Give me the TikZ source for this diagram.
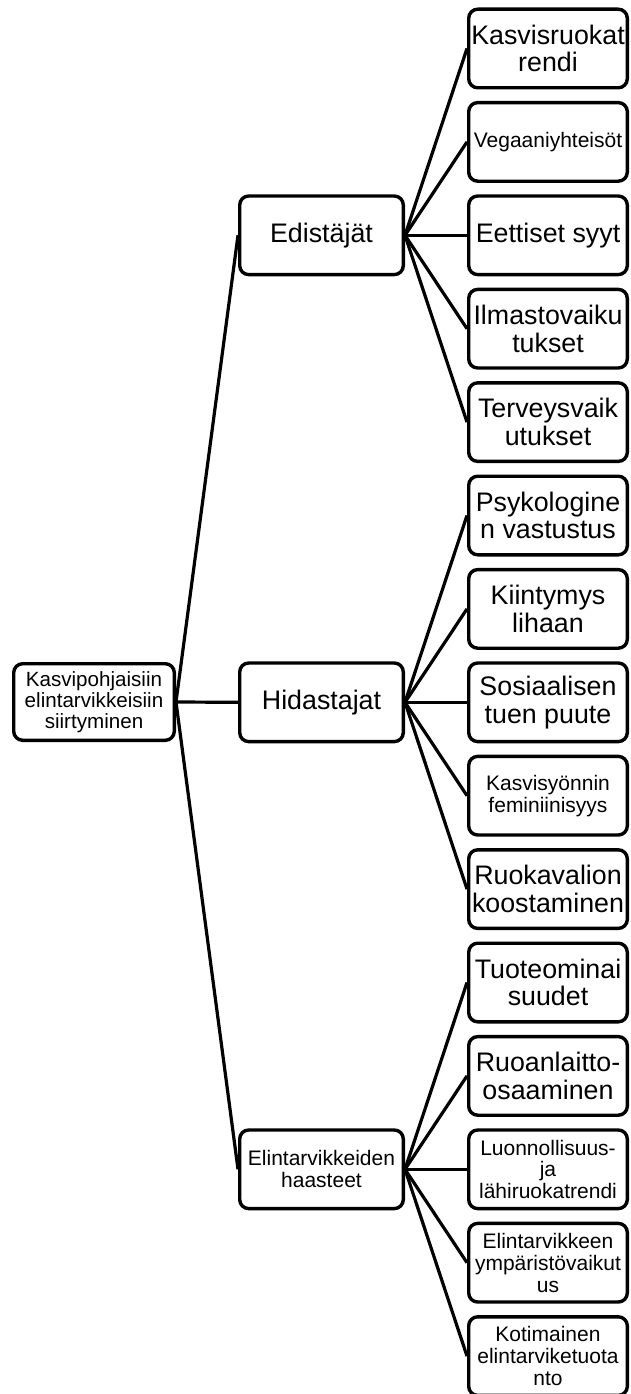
\documentclass[tikz,border=0pt]{standalone}
\usepackage{fontspec}
\setmainfont{Liberation Sans}
\begin{document}
\begin{tikzpicture}[x=1pt,y=-1pt,
 box/.style={draw, line width=3.4pt, rounded corners=9pt, align=center, inner sep=0pt, minimum height=78.6pt},
 leaf/.style={box, minimum width=158.6pt},
 mid/.style={box, minimum width=163.6pt},
 rootbox/.style={box, minimum width=160.6pt, minimum height=76.6pt},
 big/.style={font=\fontsize{26.8}{27.6}\selectfont},
 small/.style={font=\fontsize{21}{21.8}\selectfont},
 rootfont/.style={font=\fontsize{20.6}{21.3}\selectfont},
 conn/.style={line width=3.2pt}]
\useasboundingbox (0,0) rectangle (630,1394);
\clip (0,0) rectangle (630,1394);

\node[rootbox, rootfont] (root) at (94,702) {Kasvipohjaisiin\\elintarvikkeisiin\\siirtyminen};

\node[mid, big] (m1) at (321.5,235.3) {Edistäjät};
\node[mid, big] (m2) at (321.5,702.3) {Hidastajat};
\node[mid, small] (m3) at (321.5,1169.3) {Elintarvikkeiden\\haasteet};

\node[leaf, big]   (l1)  at (548,48.5)   {Kasvisruokat\\rendi};
\node[leaf, small] (l2)  at (548,141.9)  {Vegaaniyhteisöt};
\node[leaf, big]   (l3)  at (548,235.3)  {Eettiset syyt};
\node[leaf, big]   (l4)  at (548,328.7)  {Ilmastovaiku\\tukset};
\node[leaf, big]   (l5)  at (548,422.1)  {Terveysvaik\\utukset};
\node[leaf, big]   (l6)  at (548,515.5)  {Psykologine\\n vastustus};
\node[leaf, big]   (l7)  at (548,608.9)  {Kiintymys\\lihaan};
\node[leaf, big]   (l8)  at (548,702.3)  {Sosiaalisen\\tuen puute};
\node[leaf, small] (l9)  at (548,795.7)  {Kasvisyönnin\\feminiinisyys};
\node[leaf, big]   (l10) at (548,889.1)  {Ruokavalion\\koostaminen};
\node[leaf, big]   (l11) at (548,982.5)  {Tuoteominai\\suudet};
\node[leaf, big]   (l12) at (548,1075.9) {Ruoanlaitto-\\osaaminen};
\node[leaf, small] (l13) at (548,1169.3) {Luonnollisuus-\\ja\\lähiruokatrendi};
\node[leaf, small] (l14) at (548,1262.7) {Elintarvikkeen\\ympäristövaikut\\us};
\node[leaf, small] (l15) at (548,1356.1) {Kotimainen\\elintarviketuota\\nto};

\foreach \m in {m1,m2,m3} \draw[conn] (root.east) -- (\m.west);
\foreach \l in {l1,l2,l3,l4,l5} \draw[conn] (m1.east) -- (\l.west);
\foreach \l in {l6,l7,l8,l9,l10} \draw[conn] (m2.east) -- (\l.west);
\foreach \l in {l11,l12,l13,l14,l15} \draw[conn] (m3.east) -- (\l.west);
\end{tikzpicture}
\end{document}
